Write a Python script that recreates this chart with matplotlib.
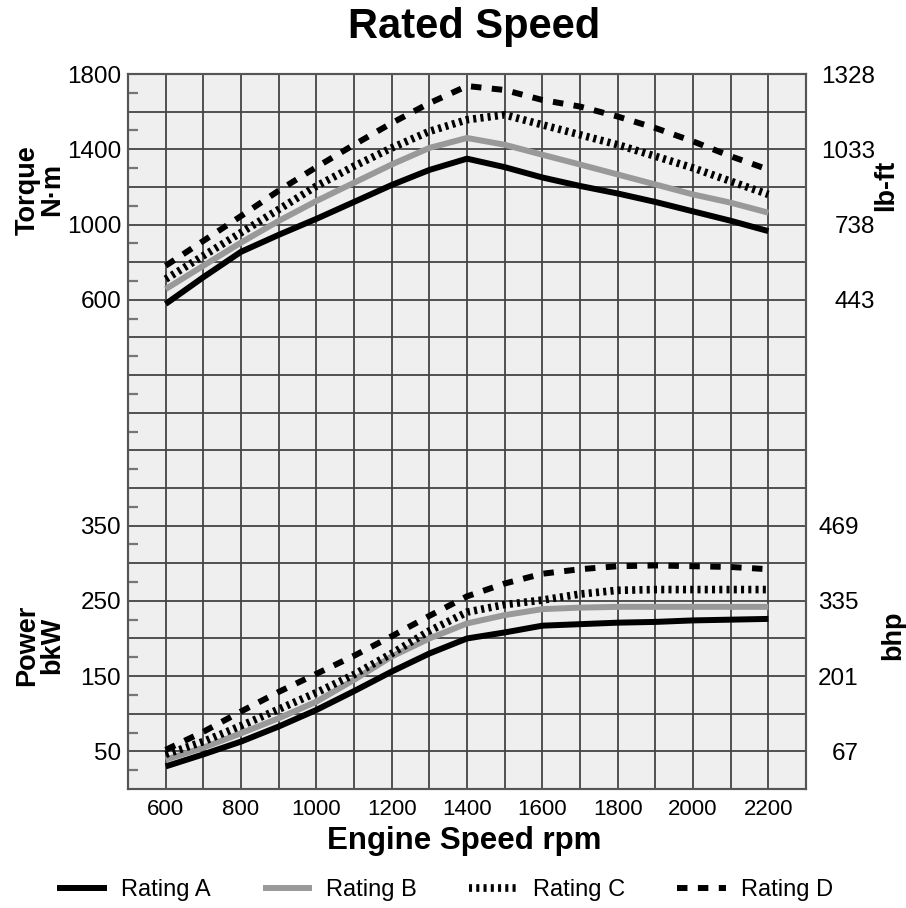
import matplotlib.pyplot as plt
from matplotlib.ticker import MultipleLocator, FixedLocator, FuncFormatter

plt.rcParams['font.family'] = ['Liberation Sans', 'DejaVu Sans']

# engine speed (rpm)
rpm = [600, 700, 800, 900, 1000, 1100, 1200, 1300, 1400,
       1500, 1600, 1700, 1800, 1900, 2000, 2100, 2200]

# torque, N·m
torque_a = [578, 720, 855, 945, 1030, 1120, 1210, 1290, 1350,
            1305, 1250, 1205, 1165, 1120, 1070, 1020, 965]
torque_b = [657, 781, 904, 1019, 1125, 1222, 1319, 1407, 1460,
            1424, 1371, 1319, 1266, 1213, 1160, 1116, 1063]
torque_c = [710, 834, 957, 1080, 1204, 1310, 1407, 1495, 1557,
            1583, 1530, 1477, 1424, 1363, 1301, 1230, 1160]
torque_d = [781, 913, 1045, 1180, 1305, 1424, 1539, 1645, 1736,
            1715, 1662, 1627, 1574, 1513, 1442, 1363, 1292]

# power, bkW
power_a = [30, 46, 63, 83, 105, 130, 156, 180, 200,
           208, 217, 219, 221, 222, 224, 225, 226]
power_b = [39, 55, 74, 94, 116, 145, 176, 200, 220,
           231, 239, 241, 242, 242, 242, 242, 242]
power_c = [46, 63, 84, 106, 128, 152, 180, 210, 235,
           245, 251, 259, 264, 265, 265, 265, 265]
power_d = [52, 76, 103, 129, 153, 177, 203, 230, 256,
           273, 286, 292, 296, 297, 296, 295, 292]

ratings = ['Rating A', 'Rating B', 'Rating C', 'Rating D']

# left scale ticks and their imperial equivalents on the right
torque_ticks = [600, 1000, 1400, 1800]
lbft_labels = ['443', '738', '1033', '1328']
power_ticks = [50, 150, 250, 350]
bhp_labels = ['67', '201', '335', '469']

NM_TO_LBFT = 0.73756
KW_TO_HP = 1.341

styles = [
    dict(color='black', lw=4.3, solid_capstyle='butt'),
    dict(color='#999999', lw=4.3, solid_capstyle='butt'),
    dict(color='black', lw=5.5, dashes=(0.4, 0.55)),
    dict(color='black', lw=4.3, dashes=(1.75, 1.75)),
]

fig = plt.figure(figsize=(9.06, 9.08), dpi=100)
ax = fig.add_axes([128 / 906, 1 - 789 / 908, 678 / 906, 715 / 908])
ax.set_facecolor('#efefef')
ax.set_xlim(500, 2300)
ax.set_ylim(-2000, 1800)

ax2 = ax.twinx()
ax2.set_ylim(0, 950)

# grid: every 100 rpm and every 200 N·m (= 50 kW)
ax.xaxis.set_major_locator(MultipleLocator(100))
ax.xaxis.set_major_formatter(FuncFormatter(
    lambda v, p: f'{int(v)}' if 600 <= v <= 2200 and v % 200 == 0 else ''))
ax.yaxis.set_major_locator(MultipleLocator(200))
ax.yaxis.set_major_formatter(FuncFormatter(
    lambda v, p: f'{int(v)}' if int(round(v)) in torque_ticks else ''))
ax.yaxis.set_minor_locator(FixedLocator(range(-1900, 1800, 200)))
ax.grid(True, which='major', color='#444444', lw=1.3)
ax.tick_params(axis='x', which='major', length=0, labelsize=16, pad=7)
ax.tick_params(axis='y', which='major', length=0, labelsize=17.5, pad=5)
ax.tick_params(axis='y', which='minor', direction='in', length=7,
               width=1.6, color='#777777')

ax2.yaxis.set_ticks_position('left')
ax2.set_yticks(power_ticks)
ax2.tick_params(axis='y', length=0, labelsize=17.5, pad=5)

for spine in list(ax.spines.values()) + list(ax2.spines.values()):
    spine.set_color('#555555')
    spine.set_linewidth(1.5)

# right-hand unit scales
sec_t = ax.secondary_yaxis('right', functions=(lambda t: t * NM_TO_LBFT,
                                               lambda l: l / NM_TO_LBFT))
sec_t.set_yticks([t * NM_TO_LBFT for t in torque_ticks], labels=lbft_labels)
sec_t.tick_params(length=0, labelsize=17.5, pad=50)
for lbl in sec_t.get_yticklabels():
    lbl.set_horizontalalignment('right')
sec_t.spines['right'].set_visible(False)

sec_p = ax2.secondary_yaxis('right', functions=(lambda p: p * KW_TO_HP,
                                                lambda h: h / KW_TO_HP))
sec_p.set_yticks([p * KW_TO_HP for p in power_ticks], labels=bhp_labels)
sec_p.tick_params(length=0, labelsize=17.5, pad=38)
for lbl in sec_p.get_yticklabels():
    lbl.set_horizontalalignment('right')
sec_p.spines['right'].set_visible(False)

# curves
torques = [torque_a, torque_b, torque_c, torque_d]
powers = [power_a, power_b, power_c, power_d]
handles = []
for name, tq, pw, st in zip(ratings, torques, powers, styles):
    h, = ax.plot(rpm, tq, label=name, **st)
    ax2.plot(rpm, pw, **st)
    handles.append(h)

# titles and labels
fig.text(474 / 906, 1 - 27 / 908, 'Rated Speed', ha='center', va='center',
         fontsize=30, fontweight='bold')
fig.text(464 / 906, 1 - 841 / 908, 'Engine Speed rpm', ha='center', va='center',
         fontsize=22.5, fontweight='bold')
fig.text(40 / 906, 1 - 190 / 908, 'Torque\nN·m', ha='center', va='center',
         rotation=90, fontsize=19.5, fontweight='bold', linespacing=0.95)
fig.text(40 / 906, 1 - 645 / 908, 'Power\nbkW', ha='center', va='center',
         rotation=90, fontsize=19.5, fontweight='bold', linespacing=0.95)
fig.text(886 / 906, 1 - 185 / 908, 'lb-ft', ha='center', va='center',
         rotation=90, fontsize=19.5, fontweight='bold')
fig.text(893 / 906, 1 - 635 / 908, 'bhp', ha='center', va='center',
         rotation=90, fontsize=19.5, fontweight='bold')

fig.legend(handles, ratings, ncol=4, loc='center',
           bbox_to_anchor=(445 / 906, 1 - 890 / 908), frameon=False,
           handlelength=2.1, columnspacing=2.2, handletextpad=0.6,
           prop={'size': 17})

fig.savefig('out.png', dpi=100)
